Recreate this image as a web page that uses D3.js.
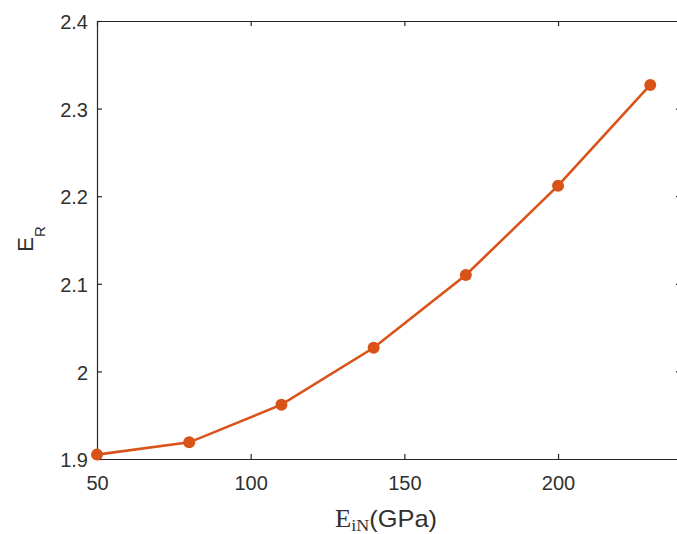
<!DOCTYPE html>
<html>
<head>
<meta charset="utf-8">
<script src="https://cdn.jsdelivr.net/npm/d3@7"></script>
<style>
  body { margin: 0; background: #fff; }
  svg { display: block; }
  text { fill: #303030; }
</style>
</head>
<body>
<svg id="chart" width="677" height="534"></svg>
<script>
// E_iN (GPa) vs E_R
var eiN = [50, 80, 110, 140, 170, 200, 230];
var eR = [1.905, 1.919, 1.962, 2.027, 2.110, 2.212, 2.327];
var xTicks = [50, 100, 150, 200];
var yTicks = [1.9, 2.0, 2.1, 2.2, 2.3, 2.4];

var COLOR_LINE = "#D95319";
var COLOR_AXIS = "#262626";
var TICK_FONT = "20px 'Liberation Sans', Arial, sans-serif";

var margin = { left: 97, top: 21 };
var width = 584, height = 438;

var svg = d3.select("#chart");
var g = svg.append("g")
  .attr("transform", "translate(" + margin.left + "," + margin.top + ")");

var x = d3.scaleLinear().domain([50, 240]).range([0, width]);
var y = d3.scaleLinear().domain([1.9, 2.4]).range([height, 0]);

function fmtY(d) {
  return d === 2 ? "2" : d3.format(".1f")(d);
}

// bottom axis
g.append("g")
  .attr("transform", "translate(0," + height + ")")
  .call(d3.axisBottom(x).tickValues(xTicks).tickSizeInner(-5).tickSizeOuter(0).tickPadding(17))
  .call(function (a) {
    a.selectAll("text").style("font", TICK_FONT);
  });

// top axis (mirror ticks)
g.append("g")
  .call(d3.axisTop(x).tickValues(xTicks).tickSizeInner(-5).tickSizeOuter(0).tickFormat(""));

// left axis
g.append("g")
  .call(d3.axisLeft(y).tickValues(yTicks).tickSizeInner(-5).tickSizeOuter(0).tickPadding(9).tickFormat(fmtY))
  .call(function (a) {
    a.selectAll("text").style("font", TICK_FONT).attr("dy", "0.38em");
  });

// right axis (mirror ticks)
g.append("g")
  .attr("transform", "translate(" + width + ",0)")
  .call(d3.axisRight(y).tickValues(yTicks).tickSizeInner(-5).tickSizeOuter(0).tickFormat(""));

g.selectAll(".domain, .tick line")
  .attr("stroke", COLOR_AXIS)
  .attr("stroke-width", 1.2);

// line
var line = d3.line()
  .x(function (d, i) { return x(eiN[i]); })
  .y(function (d) { return y(d); });

g.append("path")
  .datum(eR)
  .attr("fill", "none")
  .attr("stroke", COLOR_LINE)
  .attr("stroke-width", 2.6)
  .attr("d", line);

g.selectAll(".circle-data")
  .data(eR)
  .enter()
  .append("circle")
  .attr("class", "circle-data")
  .attr("cx", function (d, i) { return x(eiN[i]); })
  .attr("cy", function (d) { return y(d); })
  .attr("r", 6)
  .style("fill", COLOR_LINE);

// y label E_R (subscript R)
var yl = svg.append("text")
  .attr("transform", "translate(33,239) rotate(-90)")
  .attr("text-anchor", "middle")
  .style("font", "22px 'Liberation Sans', Arial, sans-serif");
yl.append("tspan").text("E");
yl.append("tspan").attr("dy", "12").style("font-size", "15px").text("R");

// x label E_iN(GPa)
var xl = svg.append("text")
  .attr("transform", "translate(335,527) scale(1.06,1)")
  .style("font", "25px 'Liberation Serif', 'Times New Roman', serif");
xl.append("tspan").text("E");
xl.append("tspan").attr("dy", "4").style("font-size", "17px").text("iN");
xl.append("tspan").attr("dy", "-4")
  .style("font", "24px 'Liberation Sans', Arial, sans-serif")
  .text("(GPa)");
</script>
</body>
</html>
